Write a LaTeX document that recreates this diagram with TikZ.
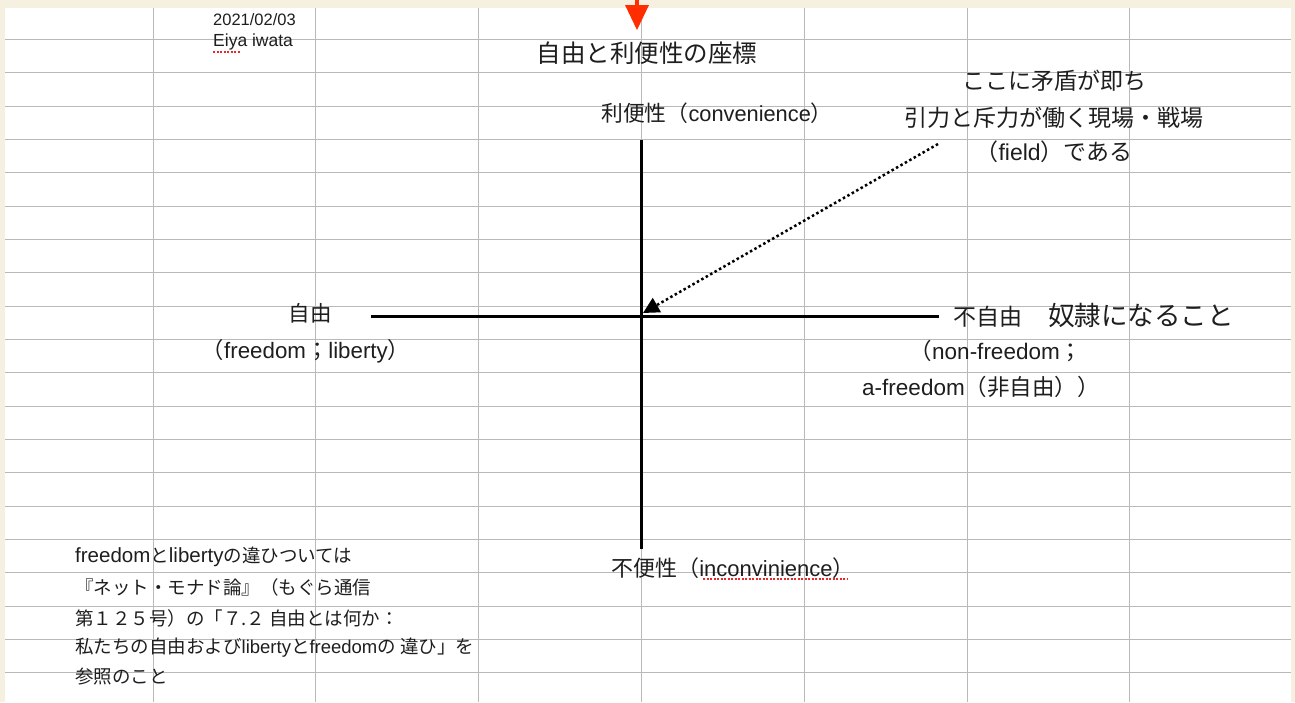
\documentclass[tikz,border=0pt]{standalone}
\usepackage{fontspec}
\setmainfont{Noto Sans CJK JP}
\newfontfamily\latf{Liberation Sans}
\newcommand\lt[1]{{\latf #1}}
\newcommand\ltb[1]{{\latf\fontsize{20.5}{20.5}\selectfont #1}}
\usetikzlibrary{arrows.meta}
\definecolor{beige}{RGB}{246,240,225}
\definecolor{gridc}{RGB}{185,185,185}
\definecolor{txt}{RGB}{30,30,30}
\definecolor{redarr}{RGB}{255,45,0}
\definecolor{spell}{RGB}{235,40,40}
\tikzset{
  lbl/.style={inner sep=0pt, text=txt},
  fs/.style={font=\fontsize{#1}{#1}\selectfont},
  axis/.style={line width=3pt, black},
  gridline/.style={gridc, line width=1pt},
  spellline/.style={spell, line width=1.5pt, dash pattern=on 2pt off 1.5pt},
}
\begin{document}
\begin{tikzpicture}[x=1pt,y=-1pt]
\useasboundingbox (0,0) rectangle (1295,702);
\fill[beige] (0,0) rectangle (1295,702);
\fill[white] (5,8) rectangle (1291,702);
\foreach \k in {0,...,19} \draw[gridline] (5,{39.3+33.35*\k}) -- (1291,{39.3+33.35*\k});
\foreach \j in {0,...,6} \draw[gridline] ({153+162.8*\j},8) -- ({153+162.8*\j},702);

% red marker arrow
\fill[redarr] (635,0) rectangle (639,6);
\fill[redarr] (625,5) -- (649,5) -- (637,30) -- cycle;

% axes
\coordinate (O) at (641,316);
\coordinate (L) at (371,316);
\coordinate (R) at (939,316);
\coordinate (T) at (641,140);
\coordinate (B) at (641,549);
\coordinate (F) at (938,144);
\draw[axis] (L) -- (R);
\draw[axis] (T) -- (B);
\draw[line width=2.5pt, dash pattern=on 2.5pt off 2.6pt, -{Triangle[length=16pt,width=16pt]}] (F) -- ([shift={(2,-3)}]O);

% header
\node[lbl, fs=16.5, anchor=west] (date) at (213,20) {\lt{2021/02/03}};
\node[lbl, fs=17.5, anchor=west] (name) at (213,42) {\lt{Eiya iwata}};
\draw[spellline] (213,52) -- (241,52);
\node[lbl, fs=24.5] (title) at (647,53) {自由と利便性の座標};

% axis labels
\node[lbl, fs=21.8] (top) at (717,113) {利便性（\lt{convenience}）};
\node[lbl, fs=22] (bottom) at (733,568) {不便性（\lt{inconvinience}）};
\draw[spellline] (703,579) -- (847,579);
\node[lbl, fs=21.5] (left1) at (310,313) {自由};
\node[lbl, fs=22.3] (left2) at (306,351) {（\lt{freedom}；\lt{liberty}）};
\node[lbl, fs=23, anchor=west] (right1) at (953,315) {不自由\hspace{26pt}\fontsize{26.5}{26.5}\selectfont 奴隷になること};
\node[lbl, fs=22.5] (right2) at (996,351) {（\lt{non-freedom}；};
\node[lbl, fs=22.5] (right3) at (981,387) {\lt{a-freedom}（非自由））};

% field note
\node[lbl, fs=23] (f1) at (1054,81) {ここに矛盾が即ち};
\node[lbl, fs=23] (f2) at (1054,118) {引力と斥力が働く現場・戦場};
\node[lbl, fs=23] (f3) at (1054,152) {（\lt{field}）である};

% bottom note
\node[lbl, fs=18.5, anchor=west] (n1) at (75,557) {\ltb{freedom}と\ltb{liberty}の違ひついては};
\node[lbl, fs=18.5, anchor=west] (n2) at (75,587) {『ネット・モナド論』（もぐら通信};
\node[lbl, fs=18.5, anchor=west] (n3) at (75,618) {第１２５号）の「７.２ 自由とは何か：};
\node[lbl, fs=18.5, anchor=west] (n4) at (75,648) {私たちの自由および\lt{liberty}と\lt{freedom}の 違ひ」を};
\node[lbl, fs=18.5, anchor=west] (n5) at (75,677) {参照のこと};
\end{tikzpicture}
\end{document}
